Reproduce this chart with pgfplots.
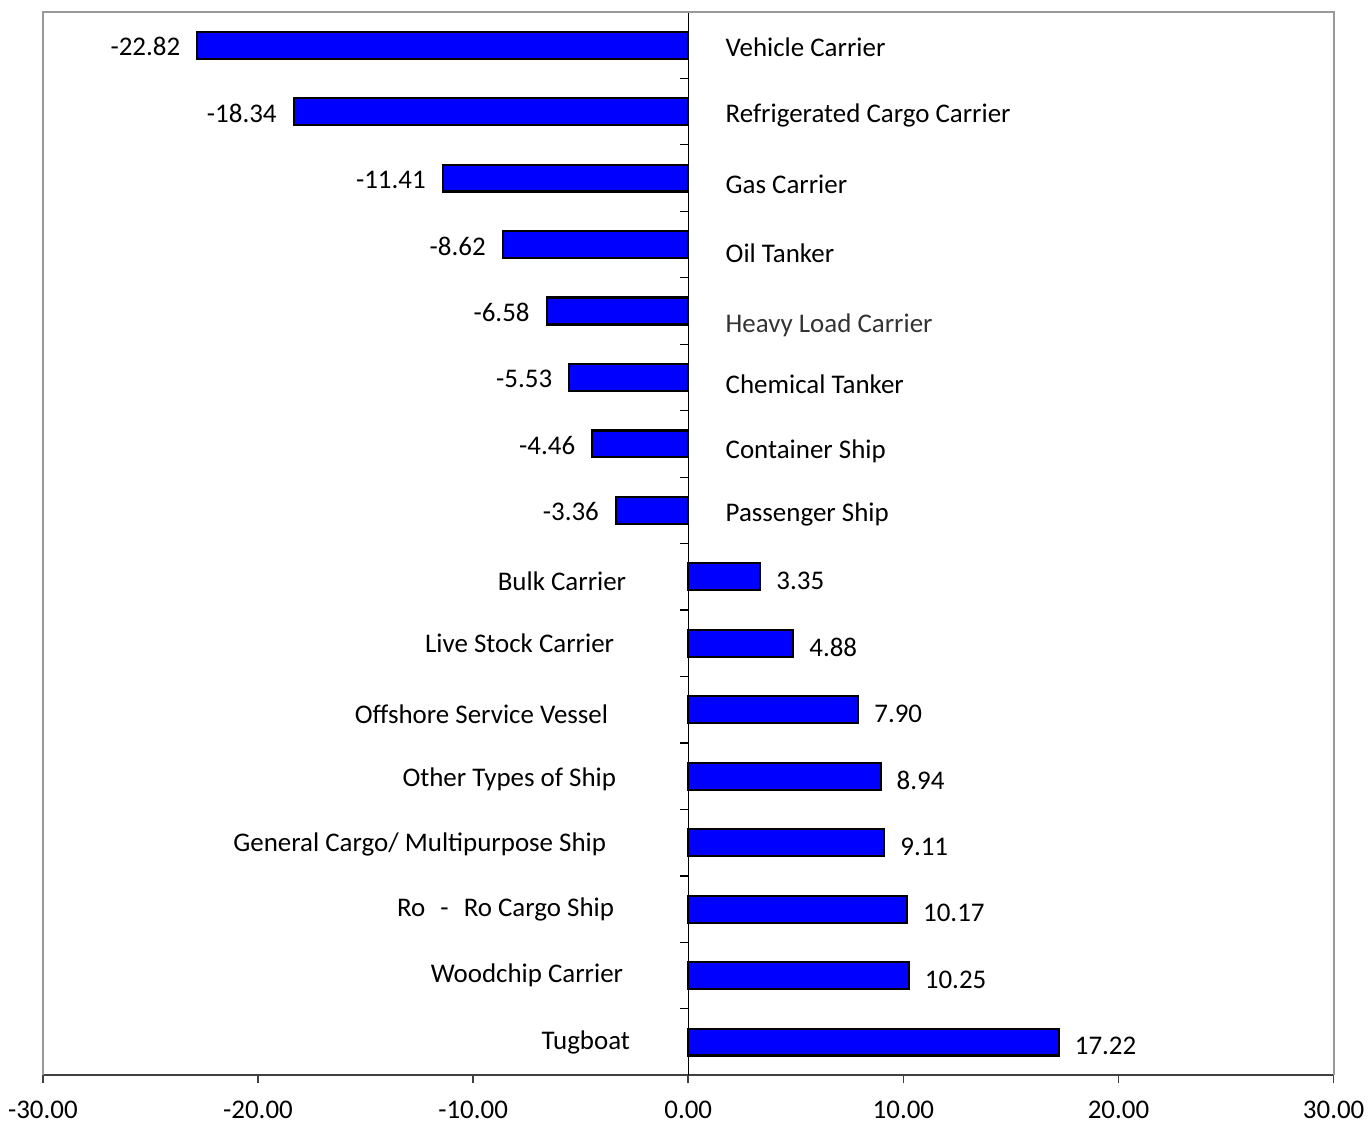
\documentclass[border=0pt]{standalone}
\usepackage{pgfplots}
\pgfplotsset{compat=1.18}
\usepackage{fontspec}
\setmainfont{Carlito}
\newcommand{\lbl}{\fontsize{13.5}{15}\selectfont}
\begin{document}
\begin{tikzpicture}
\begin{axis}[
  width=647pt, height=533pt, scale only axis,
  xmin=-30, xmax=30, ymin=0.5, ymax=16.5,
  axis x line=bottom, axis y line=middle,
  axis line style={-},
  x axis line style={black!75, line width=1pt},
  y axis line style={black, line width=0.6pt},
  xtick={-30,-20,...,30},
  xtick align=outside,
  major tick length=4pt,
  x tick style={black!75, line width=0.8pt},
  xticklabel={\pgfmathprintnumber[fixed,fixed zerofill,precision=2,assume math mode=true]{\tick}},
  xticklabel style={font=\lbl, yshift=-5.5pt},
  ytick={0.5,1.5,...,16.5}, yticklabels={},
  y tick style={black, line width=0.6pt, xshift=-2pt},
  clip=false,
]
% negative values
\addplot[xbar, bar width=13.5pt, bar shift=0pt, fill=blue, draw=black, line width=1.1pt,
  point meta=x,
  nodes near coords={\pgfmathprintnumber[fixed,fixed zerofill,precision=2,assume math mode=true]{\pgfplotspointmeta}},
  nodes near coords style={anchor=east, xshift=-4.7pt, yshift=-0.8pt, font=\lbl, text=black}]
  coordinates {(-22.82,16) (-18.34,15) (-11.41,14) (-8.62,13) (-6.58,12) (-5.53,11) (-4.46,10) (-3.36,9)};
% positive values
\addplot[xbar, bar width=13.5pt, bar shift=0pt, fill=blue, draw=black, line width=1.1pt,
  point meta=x,
  nodes near coords={\pgfmathprintnumber[fixed,fixed zerofill,precision=2,assume math mode=true]{\pgfplotspointmeta}},
  nodes near coords style={anchor=west, xshift=4.2pt, yshift=-2pt, font=\lbl, text=black}]
  coordinates {(3.35,8) (4.88,7) (7.90,6) (8.94,5) (9.11,4) (10.17,3) (10.25,2) (17.22,1)};

% category names
\begin{scope}[every node/.style={font=\lbl, inner sep=0pt, yshift=-1pt}]
\node[anchor=west] at (axis cs:1.72,16) {Vehicle Carrier};
\node[anchor=west] at (axis cs:1.72,14.97) {Refrigerated Cargo Carrier};
\node[anchor=west] at (axis cs:1.72,13.93) {Gas Carrier};
\node[anchor=west] at (axis cs:1.72,12.9) {Oil Tanker};
\node[anchor=west, text=black!80] at (axis cs:1.72,11.82) {Heavy Load Carrier};
\node[anchor=west] at (axis cs:1.72,10.93) {Chemical Tanker};
\node[anchor=west] at (axis cs:1.72,9.92) {Container Ship};
\node[anchor=west] at (axis cs:1.72,8.97) {Passenger Ship};
\node[anchor=east] at (axis cs:-2.87,7.96) {Bulk Carrier};
\node[anchor=east] at (axis cs:-3.43,7.03) {Live Stock Carrier};
\node[anchor=east] at (axis cs:-3.71,5.97) {Offshore Service Vessel};
\node[anchor=east] at (axis cs:-3.34,4.99) {Other Types of Ship};
\node[anchor=east] at (axis cs:-3.80,4.00) {General Cargo/ Multipurpose Ship};
\node[anchor=east] at (axis cs:-3.43,3.02) {Ro\,\, - \,\,Ro Cargo Ship};
\node[anchor=east] at (axis cs:-3.01,2.03) {Woodchip Carrier};
\node[anchor=east] at (axis cs:-2.69,1.03) {Tugboat};
\end{scope}

% plot area frame (left, top, right)
\draw[black!40, line width=1pt] (rel axis cs:0,0) |- (rel axis cs:1,1) -- (rel axis cs:1,0);
% margins around the plot area
\path (rel axis cs:0,0) ++(-21.5pt,-27pt);
\path (rel axis cs:1,1) ++(17pt,6pt);
\end{axis}
\end{tikzpicture}
\end{document}
